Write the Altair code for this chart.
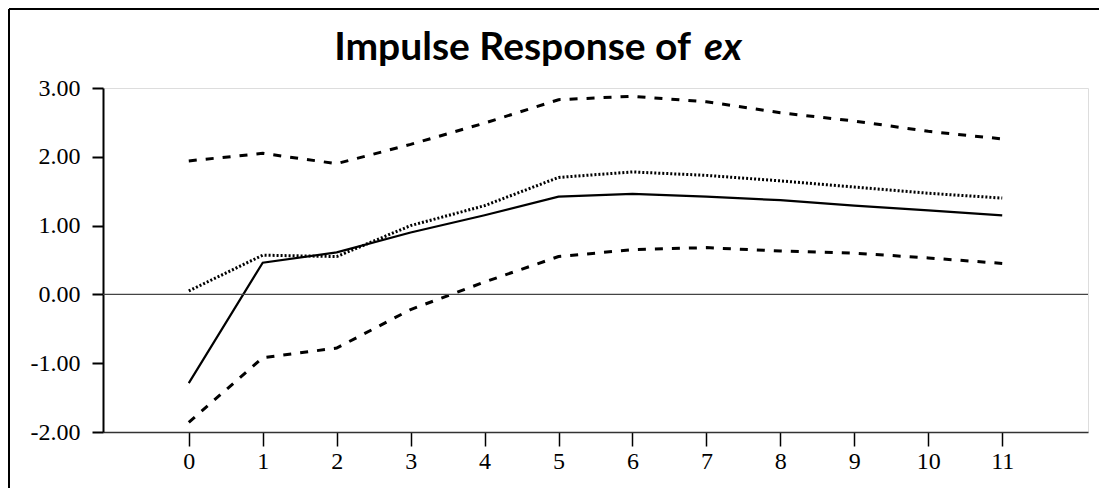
import altair as alt
import pandas as pd

# Horizon (periods)
periods = [0, 1, 2, 3, 4, 5, 6, 7, 8, 9, 10, 11]
# Solid line: impulse response
response = [-1.29, 0.46, 0.61, 0.90, 1.15, 1.42, 1.46, 1.42, 1.37, 1.29, 1.22, 1.15]
# Dotted line
dotted = [0.05, 0.57, 0.55, 1.00, 1.29, 1.70, 1.78, 1.73, 1.65, 1.56, 1.47, 1.40]
# Dashed bands
upper = [1.94, 2.05, 1.90, 2.18, 2.49, 2.83, 2.88, 2.80, 2.64, 2.52, 2.37, 2.26]
lower = [-1.86, -0.92, -0.78, -0.22, 0.18, 0.55, 0.65, 0.68, 0.63, 0.60, 0.53, 0.45]

y_ticks = [-2, -1, 0, 1, 2, 3]
title_main = "Impulse Response of"
title_var = "ex"

df = pd.DataFrame({"h": periods, "response": response, "dotted": dotted,
                   "upper": upper, "lower": lower})
one = pd.DataFrame({"k": [0], "z": [0]})

W, H = 985, 344

xs = alt.Scale(domain=[-1.16, 12.16], nice=False, zero=False)
ys = alt.Scale(domain=[-2, 3], nice=False, zero=False)

x_axis = alt.Axis(values=periods, format="d", title=None, grid=False)
y_axis = alt.Axis(values=y_ticks, title=None, grid=False,
                  labelExpr="datum.value < 0 ? '-' + format(abs(datum.value), '.2f') : format(datum.value, '.2f')")

base = alt.Chart(df)

def line(field, dash, width):
    m = base.mark_line(color="black", strokeWidth=width, strokeDash=dash) if dash else \
        base.mark_line(color="black", strokeWidth=width)
    return m.encode(
        x=alt.X("h:Q", scale=xs, axis=x_axis),
        y=alt.Y(f"{field}:Q", scale=ys, axis=y_axis),
    )

upper_l = line("upper", [8, 9], 3)
lower_l = line("lower", [8, 9], 3)
dot_l = line("dotted", [2, 2], 3)
resp_l = line("response", None, 2.2)

zero = alt.Chart(one).mark_rule(color="#444444", strokeWidth=1.3).encode(
    y=alt.Y("z:Q", scale=ys, axis=y_axis), x=alt.value(0), x2=alt.value(W))

outer_left = alt.Chart(one).mark_rule(color="black", strokeWidth=2).encode(
    x=alt.value(-94), y=alt.value(-79), y2=alt.value(H + 60))
outer_top = alt.Chart(one).mark_rule(color="black", strokeWidth=2).encode(
    y=alt.value(-79), x=alt.value(-94), x2=alt.value(W + 20))

t1 = alt.Chart(one).mark_text(font="Lato", fontSize=39, fontWeight="bold",
                              align="right", baseline="alphabetic", color="black").encode(
    x=alt.value(588), y=alt.value(-28), text=alt.value(title_main))
t2 = alt.Chart(one).mark_text(font="Lato", fontSize=39, fontWeight="bold", fontStyle="italic",
                              align="left", baseline="alphabetic", color="black").encode(
    x=alt.value(601), y=alt.value(-28), text=alt.value(title_var))

chart = alt.layer(upper_l, lower_l, dot_l, resp_l, zero, outer_left, outer_top, t1, t2).properties(
    width=W, height=H,
    padding={"left": 95, "top": 80, "right": 11, "bottom": 56},
    autosize=alt.AutoSizeParams(type="none"),
).configure_view(
    stroke="#555555", strokeWidth=1.5
).configure(background="white").configure_axisX(
    labelFont="Liberation Serif", labelFontSize=24, labelColor="black",
    tickSize=14, tickWidth=1.5, tickColor="black",
    domainColor="#333333", domainWidth=1.5, labelPadding=3,
).configure_axisY(
    labelFont="Liberation Serif", labelFontSize=24, labelColor="black",
    tickSize=11, tickWidth=2, tickColor="black",
    domainColor="black", domainWidth=2, labelPadding=12,
)

chart.save("out.html", embed_options={"renderer": "svg", "actions": False})
